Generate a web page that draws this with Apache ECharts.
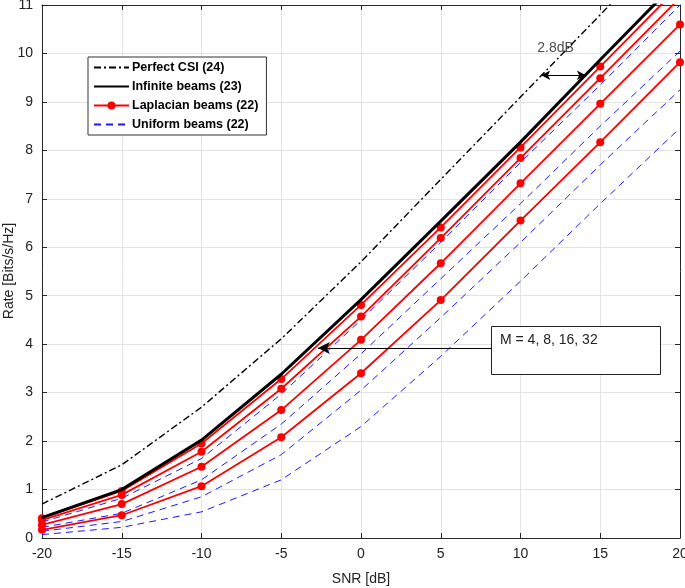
<!DOCTYPE html>
<html>
<head>
<meta charset="utf-8">
<script src="https://cdn.jsdelivr.net/npm/echarts@6/dist/echarts.min.js"></script>
<style>
html,body{margin:0;padding:0;background:#fff;}
#chart{width:685px;height:588px;}
</style>
</head>
<body>
<div id="chart"></div>
<script>
// ---- data ----
const snr = [-20, -15, -10, -5, 0, 5, 10, 15, 20];
const perfectCSI   = [0.70, 1.51, 2.70, 4.11, 5.70, 7.40, 9.10, 10.80, 12.50];
const infiniteBeams = [0.42, 1.00, 2.02, 3.38, 4.92, 6.54, 8.17, 9.87, 11.55];
const lapM32 = [0.41, 0.97, 1.95, 3.28, 4.81, 6.41, 8.06, 9.73, 11.40];
const lapM16 = [0.37, 0.89, 1.78, 3.08, 4.57, 6.19, 7.84, 9.49, 11.15];
const lapM8  = [0.27, 0.70, 1.47, 2.64, 4.09, 5.67, 7.32, 8.96, 10.60];
const lapM4  = [0.17, 0.47, 1.07, 2.08, 3.40, 4.91, 6.55, 8.17, 9.82];
const uniM32 = [0.33, 0.82, 1.64, 2.97, 4.50, 6.10, 7.75, 9.35, 11.00];
const uniM16 = [0.22, 0.51, 1.20, 2.35, 3.80, 5.35, 6.90, 8.50, 10.05];
const uniM8  = [0.14, 0.34, 0.85, 1.72, 3.05, 4.55, 6.10, 7.70, 9.25];
const uniM4  = [0.07, 0.22, 0.54, 1.20, 2.30, 3.75, 5.30, 6.90, 8.46];
const legendNames = ['Perfect CSI (24)', 'Infinite beams (23)', 'Laplacian beams (22)', 'Uniform beams (22)'];
const xTicks = [-20, 20, 5];   // min, max, interval
const yTicks = [0, 11, 1];
const xName = 'SNR [dB]';
const yName = 'Rate [Bits/s/Hz]';
// annotation values (data units)
const gapArrow = {x1: 11.3, x2: 14.1, y: 9.55, label: '2.8dB'};
const mArrow = {x1: 11.5, x2: -2.7, y: 3.92, label: 'M = 4, 8, 16, 32'};

const pair = arr => snr.map((x, i) => [x, arr[i]]);
const FONT = 'Liberation Sans, Arial, Helvetica, sans-serif';

const chart = echarts.init(document.getElementById('chart'), null, {renderer: 'canvas'});

const lapStyle = (name, data) => ({
  name, type: 'line', data: pair(data), symbol: 'circle', symbolSize: 8,
  showSymbol: true, color: '#ff0000',
  lineStyle: {color: '#ff0000', width: 1.8}, itemStyle: {color: '#ff0000'},
  z: 4, animation: false
});
const uniStyle = (name, data) => ({
  name, type: 'line', data: pair(data), symbol: 'none', color: '#0000ff',
  lineStyle: {color: '#1a1aff', width: 1, type: [7, 5]}, z: 3, animation: false
});

const series = [
  {name: legendNames[0], type: 'line', data: pair(perfectCSI), symbol: 'none', color: '#000',
   lineStyle: {color: '#000', width: 1.4, type: [7, 3, 2, 3]}, z: 3, animation: false},
  {name: legendNames[1], type: 'line', data: pair(infiniteBeams), symbol: 'none', color: '#000',
   lineStyle: {color: '#000', width: 3}, z: 5, animation: false,
   markLine: {
     silent: true, animation: false, symbol: ['arrow', 'arrow'], symbolSize: [7, 9],
     label: {show: false},
     itemStyle: {color: '#000'},
     lineStyle: {color: '#000', width: 1, type: 'solid'},
     data: [
       [{coord: [gapArrow.x1, gapArrow.y]}, {coord: [gapArrow.x2, gapArrow.y]}],
       [{coord: [mArrow.x1, mArrow.y], symbol: 'none'},
        {coord: [mArrow.x2, mArrow.y], symbol: 'arrow', symbolSize: [9, 12]}]
     ]
   }},
  lapStyle(legendNames[2], lapM32),
  lapStyle(legendNames[2], lapM16),
  lapStyle(legendNames[2], lapM8),
  lapStyle(legendNames[2], lapM4),
  uniStyle(legendNames[3], uniM32),
  uniStyle(legendNames[3], uniM16),
  uniStyle(legendNames[3], uniM8),
  uniStyle(legendNames[3], uniM4),
  {name: 'annot2', type: 'scatter', data: [[ (gapArrow.x1 + gapArrow.x2) / 2 - 0.5, gapArrow.y + 0.56 ]],
   symbolSize: 0, animation: false, silent: true,
   label: {show: true, formatter: gapArrow.label, position: 'inside', color: '#222',
           fontFamily: FONT, fontSize: 14}}
];

const axisCommon = {
  axisLine: {show: true, onZero: false, lineStyle: {color: '#262626', width: 1}},
  axisTick: {show: true, inside: true, length: 5, lineStyle: {color: '#262626'}},
};

const hiddenDot = {opacity: 0};

chart.setOption({
  animation: false,
  backgroundColor: '#fff',
  grid: {left: 42, right: 5, top: 5, bottom: 50, containLabel: false, outerBoundsMode: 'none'},
  xAxis: [
    Object.assign({type: 'value', min: xTicks[0], max: xTicks[1], interval: xTicks[2],
      name: xName, nameLocation: 'middle', nameGap: 34,
      nameTextStyle: {fontFamily: FONT, fontSize: 14, color: '#222'},
      axisLabel: {fontFamily: FONT, fontSize: 14, color: '#222', margin: 9},
      splitLine: {show: true, lineStyle: {color: '#e3e3e3', width: 1}}}, axisCommon),
    Object.assign({type: 'value', position: 'top', min: xTicks[0], max: xTicks[1], interval: xTicks[2],
      axisLabel: {show: false}, splitLine: {show: false}}, axisCommon)
  ],
  yAxis: [
    Object.assign({type: 'value', min: yTicks[0], max: yTicks[1], interval: yTicks[2],
      axisLabel: {fontFamily: FONT, fontSize: 14, color: '#222', margin: 9},
      splitLine: {show: true, lineStyle: {color: '#e3e3e3', width: 1}}}, axisCommon),
    Object.assign({type: 'value', position: 'right', min: yTicks[0], max: yTicks[1], interval: yTicks[2],
      axisLabel: {show: false}, splitLine: {show: false}}, axisCommon)
  ],
  legend: {
    show: true,
    data: [
      {name: legendNames[0], itemStyle: hiddenDot},
      {name: legendNames[1], itemStyle: hiddenDot},
      {name: legendNames[2]},
      {name: legendNames[3], itemStyle: hiddenDot}
    ],
    orient: 'vertical', left: 88, top: 57,
    itemWidth: 35, itemHeight: 10, itemGap: 6,
    backgroundColor: '#fff', borderColor: '#333', borderWidth: 1,
    padding: [4, 8, 4, 5], selectedMode: false,
    textStyle: {fontFamily: FONT, fontSize: 12.5, fontWeight: 'bold', color: '#000', padding: [0, 0, 0, -2]}
  },
  graphic: [
    {type: 'text', x: 9, y: 271, rotation: Math.PI / 2,
     style: {text: yName, fontFamily: FONT, fontSize: 14, fill: '#222', align: 'center', verticalAlign: 'middle'}},
    {type: 'rect', left: 491, top: 326, shape: {width: 169, height: 48},
     style: {fill: '#fff', stroke: '#222', lineWidth: 1}, z: 100},
    {type: 'text', left: 500, top: 333, style: {text: mArrow.label, fontFamily: FONT, fontSize: 14, fill: '#222'}, z: 101}
  ],
  series
});
</script>
</body>
</html>
